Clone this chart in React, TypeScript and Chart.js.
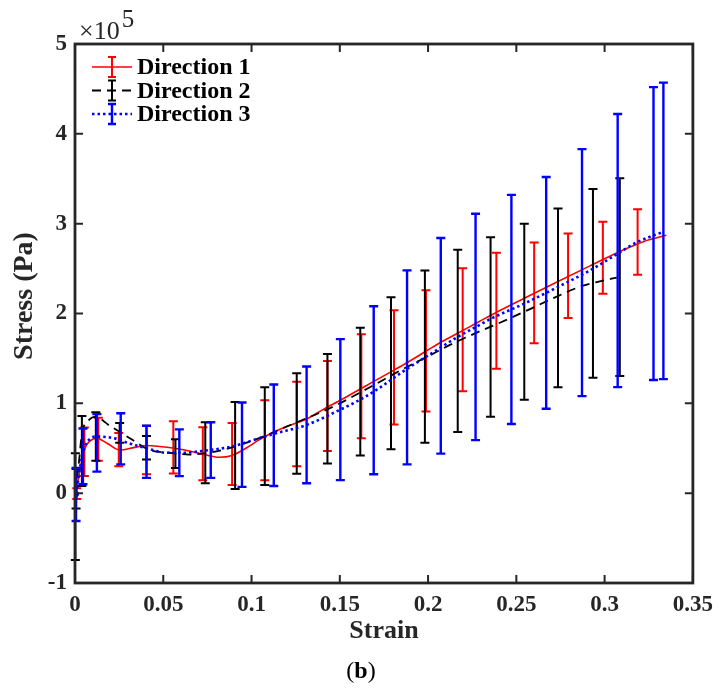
import { useEffect, useRef } from "react";
import { Chart, registerables } from "chart.js";

Chart.register(...registerables);

const FONT = "'Liberation Serif', 'Times New Roman', serif";

// Stress values are in units of 1e5 Pa
const dir1Strain = [0, 0.001, 0.0034, 0.0056, 0.0084, 0.0124, 0.0186, 0.0253, 0.0338, 0.0405, 0.0479, 0.0563, 0.0648, 0.0732, 0.0816, 0.089, 0.0968, 0.104, 0.1115, 0.121, 0.1306, 0.143, 0.149, 0.1616, 0.168, 0.1807, 0.187, 0.1988, 0.2055, 0.2168, 0.228, 0.2393, 0.2545, 0.273, 0.2917, 0.3108, 0.322, 0.335];
const dir1Stress = [0, 0.06, 0.32, 0.5, 0.58, 0.61, 0.55, 0.48, 0.51, 0.53, 0.52, 0.5, 0.47, 0.43, 0.4, 0.42, 0.5, 0.59, 0.67, 0.75, 0.82, 0.96, 1.02, 1.16, 1.23, 1.37, 1.44, 1.58, 1.66, 1.78, 1.9, 2.02, 2.17, 2.35, 2.53, 2.71, 2.8, 2.87];

const dir2Strain = [0, 0.002, 0.0039, 0.0073, 0.0113, 0.0197, 0.032, 0.0422, 0.0535, 0.0648, 0.076, 0.089, 0.104, 0.1115, 0.121, 0.1306, 0.138, 0.149, 0.153, 0.169, 0.1847, 0.2016, 0.2145, 0.2314, 0.241, 0.2568, 0.272, 0.2877, 0.2979, 0.3069];
const dir2Stress = [0, 0.3, 0.66, 0.8, 0.85, 0.75, 0.6, 0.48, 0.45, 0.43, 0.45, 0.51, 0.61, 0.67, 0.75, 0.83, 0.89, 0.99, 1.03, 1.2, 1.37, 1.54, 1.67, 1.82, 1.9, 2.04, 2.18, 2.31, 2.36, 2.4];

const dir3Strain = [0.0006, 0.0017, 0.0028, 0.0051, 0.0073, 0.0118, 0.0225, 0.0298, 0.0405, 0.0518, 0.062, 0.072, 0.089, 0.104, 0.1126, 0.1312, 0.1503, 0.1605, 0.17, 0.187, 0.2055, 0.2168, 0.228, 0.2354, 0.2545, 0.273, 0.2917, 0.3069, 0.318, 0.3333];
const dir3Stress = [-0.01, 0.13, 0.28, 0.49, 0.58, 0.63, 0.61, 0.56, 0.5, 0.45, 0.45, 0.47, 0.52, 0.61, 0.66, 0.76, 0.93, 1.03, 1.14, 1.37, 1.6, 1.74, 1.86, 1.94, 2.11, 2.29, 2.48, 2.66, 2.79, 2.91];

const dir1BarStrain = [0.001, 0.0053, 0.0132, 0.0248, 0.0405, 0.0557, 0.0724, 0.089, 0.1075, 0.1256, 0.143, 0.1622, 0.1807, 0.1988, 0.2196, 0.2387, 0.2601, 0.2793, 0.299, 0.3187];
const dir1BarMean = [-0.005, 0.46, 0.6, 0.485, 0.48, 0.51, 0.44, 0.435, 0.59, 0.77, 0.97, 1.19, 1.4, 1.585, 1.82, 2.03, 2.23, 2.42, 2.62, 2.795];
const dir1BarErr = [0.06, 0.27, 0.24, 0.185, 0.27, 0.29, 0.295, 0.345, 0.445, 0.47, 0.5, 0.58, 0.635, 0.675, 0.685, 0.645, 0.56, 0.47, 0.4, 0.365];

const dir2BarStrain = [0.0002, 0.0006, 0.0039, 0.0118, 0.0253, 0.0405, 0.0569, 0.0738, 0.0907, 0.1075, 0.1256, 0.143, 0.1616, 0.179, 0.1982, 0.2168, 0.2354, 0.2545, 0.2736, 0.2934, 0.3086];
const dir2BarMean = [-0.15, 0.05, 0.47, 0.63, 0.67, 0.505, 0.44, 0.45, 0.53, 0.635, 0.775, 0.94, 1.13, 1.335, 1.52, 1.695, 1.85, 2.02, 2.175, 2.335, 2.405];
const dir2BarErr = [0.595, 0.22, 0.39, 0.27, 0.11, 0.13, 0.16, 0.34, 0.485, 0.545, 0.56, 0.61, 0.71, 0.845, 0.96, 1.015, 1.0, 0.98, 0.995, 1.05, 1.1];

const dir3BarStrain = [0.0006, 0.0045, 0.0124, 0.0259, 0.0405, 0.0591, 0.0769, 0.0946, 0.1126, 0.1312, 0.1503, 0.1692, 0.1881, 0.2072, 0.2269, 0.2472, 0.2669, 0.2872, 0.3074, 0.3277, 0.3333];
const dir3BarMean = [-0.015, 0.41, 0.56, 0.605, 0.46, 0.45, 0.48, 0.54, 0.645, 0.76, 0.93, 1.145, 1.4, 1.64, 1.85, 2.045, 2.23, 2.455, 2.7, 2.89, 2.92];
const dir3BarErr = [0.295, 0.31, 0.32, 0.285, 0.29, 0.26, 0.31, 0.47, 0.565, 0.65, 0.785, 0.935, 1.08, 1.2, 1.26, 1.275, 1.29, 1.375, 1.52, 1.63, 1.65];

const seriesLabels = ["Direction 1", "Direction 2", "Direction 3"];
const seriesColors = ["#ff0000", "#000000", "#0000ff"];
const seriesDash = [[], [9, 6], [2.5, 3]];
const seriesWidth = [1.6, 1.8, 2.6];
const barWidth = [2, 2, 2.4];

const xTicks = [0, 0.05, 0.1, 0.15, 0.2, 0.25, 0.3, 0.35];
const yTicks = [-1, 0, 1, 2, 3, 4, 5];

const barSets = [
  { x: dir1BarStrain, m: dir1BarMean, e: dir1BarErr },
  { x: dir2BarStrain, m: dir2BarMean, e: dir2BarErr },
  { x: dir3BarStrain, m: dir3BarMean, e: dir3BarErr },
];

const toPts = (xs: number[], ys: number[]) => xs.map((x, i) => ({ x, y: ys[i] }));

const errorBarPlugin = {
  id: "errorBars",
  afterDatasetDraw(chart: any, args: any) {
    const idx = args.index;
    const set = barSets[idx];
    if (!set) return;
    const { ctx, scales } = chart;
    const xs = scales.x;
    const ys = scales.y;
    ctx.save();
    ctx.strokeStyle = seriesColors[idx];
    ctx.lineWidth = barWidth[idx];
    ctx.setLineDash([]);
    const cap = 4.5;
    set.x.forEach((xv: number, i: number) => {
      const px = xs.getPixelForValue(xv);
      const top = ys.getPixelForValue(set.m[i] + set.e[i]);
      const bot = ys.getPixelForValue(set.m[i] - set.e[i]);
      ctx.beginPath();
      ctx.moveTo(px, top);
      ctx.lineTo(px, bot);
      ctx.moveTo(px - cap, top);
      ctx.lineTo(px + cap, top);
      ctx.moveTo(px - cap, bot);
      ctx.lineTo(px + cap, bot);
      ctx.stroke();
    });
    ctx.restore();
  },
};

const framePlugin = {
  id: "frame",
  afterDraw(chart: any) {
    const { ctx, chartArea: a, scales } = chart;
    ctx.save();
    ctx.strokeStyle = "#262626";
    ctx.lineWidth = 2.8;
    ctx.setLineDash([]);
    ctx.strokeRect(a.left, a.top, a.right - a.left, a.bottom - a.top);
    ctx.lineWidth = 2;
    const tl = 8;
    ctx.beginPath();
    xTicks.forEach((v) => {
      const px = scales.x.getPixelForValue(v);
      ctx.moveTo(px, a.bottom);
      ctx.lineTo(px, a.bottom - tl);
      ctx.moveTo(px, a.top);
      ctx.lineTo(px, a.top + tl);
    });
    yTicks.forEach((v) => {
      const py = scales.y.getPixelForValue(v);
      ctx.moveTo(a.left, py);
      ctx.lineTo(a.left + tl, py);
      ctx.moveTo(a.right, py);
      ctx.lineTo(a.right - tl, py);
    });
    ctx.stroke();

    // y axis title
    ctx.save();
    ctx.translate(25, 296);
    ctx.rotate(-Math.PI / 2);
    ctx.fillStyle = "#262626";
    ctx.font = `bold 28px ${FONT}`;
    ctx.textAlign = "center";
    ctx.textBaseline = "middle";
    ctx.fillText("Stress (Pa)", 0, 0);
    ctx.restore();

    // exponent label
    ctx.fillStyle = "#262626";
    ctx.textBaseline = "alphabetic";
    ctx.textAlign = "left";
    ctx.font = `26px ${FONT}`;
    ctx.fillText("×10", 79, 39);
    const w = ctx.measureText("×10").width;
    ctx.font = `25px ${FONT}`;
    ctx.fillText("5", 79 + w + 2, 27);

    // legend
    seriesLabels.forEach((lab, i) => {
      const y = 67 + i * 23.5;
      ctx.strokeStyle = seriesColors[i];
      ctx.lineWidth = seriesWidth[i];
      ctx.setLineDash(seriesDash[i]);
      ctx.beginPath();
      ctx.moveTo(92, y);
      ctx.lineTo(132, y);
      ctx.stroke();
      ctx.setLineDash([]);
      ctx.lineWidth = barWidth[i];
      ctx.beginPath();
      ctx.moveTo(112, y - 10);
      ctx.lineTo(112, y + 10);
      ctx.moveTo(108, y - 10);
      ctx.lineTo(116, y - 10);
      ctx.moveTo(108, y + 10);
      ctx.lineTo(116, y + 10);
      ctx.stroke();
      ctx.fillStyle = "#000000";
      ctx.font = `bold 24px ${FONT}`;
      ctx.textBaseline = "middle";
      ctx.fillText(lab, 137, y + 1);
    });

    // caption (b)
    ctx.fillStyle = "#000000";
    ctx.textBaseline = "middle";
    ctx.font = `24px ${FONT}`;
    const wp = ctx.measureText("(").width;
    ctx.font = `bold 24px ${FONT}`;
    const wb = ctx.measureText("b").width;
    const total = wp * 2 + wb;
    let cx = 361 - total / 2;
    ctx.font = `24px ${FONT}`;
    ctx.fillText("(", cx, 672);
    cx += wp;
    ctx.font = `bold 24px ${FONT}`;
    ctx.fillText("b", cx, 672);
    cx += wb;
    ctx.font = `24px ${FONT}`;
    ctx.fillText(")", cx, 672);
    ctx.restore();
  },
};

export default function App() {
  const ref = useRef<HTMLCanvasElement | null>(null);
  useEffect(() => {
    if (!ref.current) return;
    const pts3 = toPts(dir3Strain, dir3Stress);
    const chart = new Chart(ref.current, {
      type: "scatter",
      data: {
        datasets: [
          {
            label: seriesLabels[0],
            data: toPts(dir1Strain, dir1Stress),
            showLine: true,
            borderColor: seriesColors[0],
            borderWidth: seriesWidth[0],
            borderDash: seriesDash[0],
            pointRadius: 0,
            cubicInterpolationMode: "monotone",
            order: 2,
          },
          {
            label: seriesLabels[1],
            data: toPts(dir2Strain, dir2Stress),
            showLine: true,
            borderColor: seriesColors[1],
            borderWidth: seriesWidth[1],
            borderDash: seriesDash[1],
            pointRadius: 0,
            cubicInterpolationMode: "monotone",
            order: 1,
          },
          {
            label: seriesLabels[2],
            data: pts3,
            showLine: true,
            borderColor: seriesColors[2],
            backgroundColor: seriesColors[2],
            borderWidth: seriesWidth[2],
            borderDash: seriesDash[2],
            pointRadius: pts3.map((_, i) => (i === 0 ? 3 : 0)),
            pointBorderWidth: 0,
            cubicInterpolationMode: "monotone",
            order: 0,
          },
        ],
      } as any,
      options: {
        animation: false,
        responsive: false,
        maintainAspectRatio: false,
        devicePixelRatio: 1,
        layout: { padding: { left: 0, right: 24, top: 44, bottom: 0 } },
        plugins: {
          legend: { display: false },
          tooltip: { enabled: false },
        },
        scales: {
          x: {
            type: "linear",
            min: 0,
            max: 0.35,
            afterFit: (s: any) => {
              s.height = 105;
            },
            afterBuildTicks: (s: any) => {
              s.ticks = xTicks.map((v) => ({ value: v }));
            },
            grid: { display: false, drawTicks: false },
            border: { display: false },
            ticks: {
              padding: 8,
              autoSkip: false,
              maxRotation: 0,
              color: "#262626",
              font: { family: FONT, size: 23, weight: "bold" },
              callback: (v: any) => String(Number(Number(v).toFixed(2))),
            },
            title: {
              display: true,
              text: "Strain",
              color: "#262626",
              padding: { top: 0, bottom: 41 },
              font: { family: FONT, size: 26, weight: "bold" },
            },
          },
          y: {
            type: "linear",
            min: -1,
            max: 5,
            afterFit: (s: any) => {
              s.width = 75;
            },
            afterBuildTicks: (s: any) => {
              s.ticks = yTicks.map((v) => ({ value: v }));
            },
            grid: { display: false, drawTicks: false },
            border: { display: false },
            ticks: {
              padding: 8,
              color: "#262626",
              font: { family: FONT, size: 23, weight: "bold" },
              callback: (v: any) => String(v),
            },
            title: { display: false },
          },
        },
      } as any,
      plugins: [errorBarPlugin, framePlugin],
    });
    return () => chart.destroy();
  }, []);
  return (
    <div style={{ position: "fixed", left: 0, top: 0, width: 721, height: 688, background: "#fff" }}>
      <canvas ref={ref} width={721} height={688} style={{ display: "block", width: 721, height: 688 }} />
    </div>
  );
}
